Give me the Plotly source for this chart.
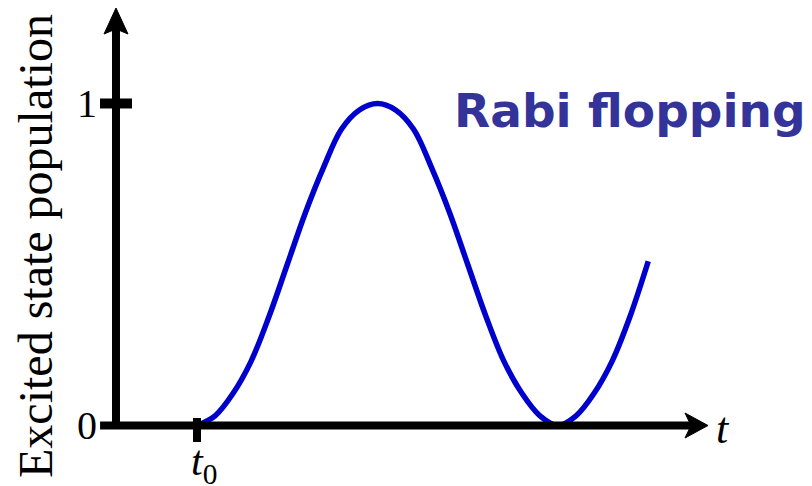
import plotly.graph_objects as go

# ---- data ----
t_values = [0.0, 0.1, 0.2, 0.3, 0.4, 0.5, 0.6, 0.7, 0.8, 0.9, 1.0, 1.1, 1.2,
            1.3, 1.4, 1.5, 1.6, 1.7, 1.8, 1.9, 2.0, 2.1, 2.2, 2.3, 2.4, 2.5]
population = [0.00, 0.03, 0.10, 0.20, 0.34, 0.50, 0.66, 0.80, 0.92, 0.98, 1.00,
              0.98, 0.92, 0.80, 0.66, 0.50, 0.34, 0.20, 0.10, 0.03, 0.00,
              0.03, 0.10, 0.20, 0.34, 0.51]
y_tick_values = [0, 1]
y_tick_labels = ["0", "1"]
title_text = "Rabi flopping"
y_title = "Excited state population"
x_label = "t"
t0_label = "t0"

BLUE = "#0000CC"
TITLE_BLUE = "#333399"
SERIF = "Liberation Serif, Times New Roman, serif"

fig = go.Figure()
fig.add_trace(go.Scatter(x=t_values, y=population, mode="lines",
                         line=dict(color=BLUE, width=5.5, shape="spline"),
                         hoverinfo="skip", showlegend=False))

# axis geometry (data units)
YAX_X = -0.4488
shapes = [
    # y axis
    dict(type="line", x0=YAX_X, x1=YAX_X, y0=-0.011, y1=1.234,
         line=dict(color="black", width=8)),
    # x axis
    dict(type="line", x0=-0.537, x1=2.74, y0=0, y1=0,
         line=dict(color="black", width=8)),
    # t0 tick
    dict(type="line", x0=t_values[0], x1=t_values[0], y0=0.0233, y1=-0.0512,
         line=dict(color="black", width=8)),
    # y arrowhead
    dict(type="path",
         path="M -0.4488,1.2966 L -0.5152,1.2158 L -0.4488,1.2314 L -0.3823,1.2158 Z",
         fillcolor="black", line=dict(color="black", width=1)),
    # x arrowhead
    dict(type="path",
         path="M 2.8310,0 L 2.7036,0.0388 L 2.7368,0 L 2.7036,-0.0388 Z",
         fillcolor="black", line=dict(color="black", width=1)),
]
# y ticks at 1
for v in y_tick_values[1:]:
    shapes.append(dict(type="line", x0=-0.5374, x1=-0.3601, y0=v, y1=v,
                       line=dict(color="black", width=10)))

annotations = []
for v, lab in zip(y_tick_values, y_tick_labels):
    annotations.append(dict(x=-0.612, y=v, text=lab, showarrow=False,
                            xanchor="center", yanchor="middle",
                            font=dict(family=SERIF, size=40, color="black")))
annotations += [
    dict(x=2.914, y=-0.01, text="<i>" + x_label + "</i>", showarrow=False,
         xanchor="center", yanchor="middle",
         font=dict(family=SERIF, size=44, color="black")),
    dict(x=0.04, y=-0.033, text="<i>t</i><sub>0</sub>", showarrow=False,
         xanchor="center", yanchor="top",
         font=dict(family=SERIF, size=42, color="black")),
    dict(x=-0.892, y=0.5575, text=y_title, showarrow=False, textangle=-90,
         xanchor="center", yanchor="middle",
         font=dict(family=SERIF, size=48, color="black")),
    dict(x=1.415, y=0.9767, text="<b>" + title_text + "</b>", showarrow=False,
         xanchor="left", yanchor="middle",
         font=dict(family="DejaVu Sans", size=47, color=TITLE_BLUE)),
]

fig.update_layout(
    width=812, height=486,
    margin=dict(l=0, r=0, t=0, b=0),
    paper_bgcolor="white", plot_bgcolor="white",
    xaxis=dict(range=[-1.0914, 3.4072], visible=False, fixedrange=True),
    yaxis=dict(range=[-0.1879, 1.3214], visible=False, fixedrange=True),
    shapes=shapes, annotations=annotations,
)
fig.write_html("out.html", config={"displayModeBar": False},
               post_script="document.body.style.margin='0';document.body.style.overflow='hidden';")
